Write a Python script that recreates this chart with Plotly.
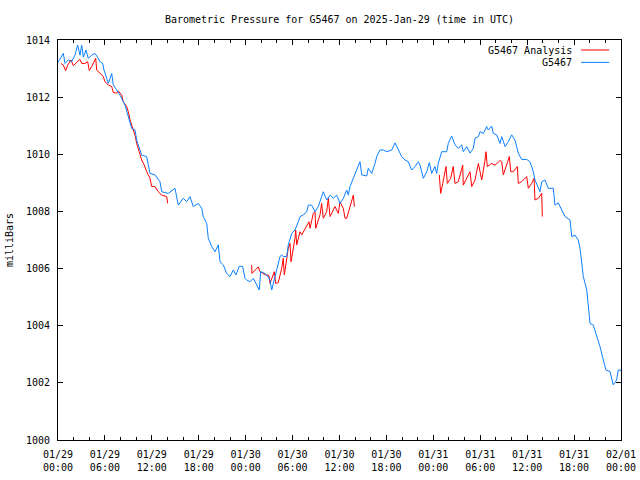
import pandas as pd
import plotly.graph_objects as go

START = "2025-01-29 00:00"
END = "2025-02-01 00:00"
TITLE = "Barometric Pressure for G5467 on 2025-Jan-29 (time in UTC)"
Y_TITLE = "milliBars"
OBS_NAME = "G5467"
ANA_NAME = "G5467 Analysis"

# Observed station pressure: hours since start, value (mb)
obs_hours = [0.0, 0.68, 0.90, 1.32, 1.75, 2.17, 2.52, 2.81, 3.03, 3.24, 3.58, 3.87, 4.31, 4.73,
             5.15, 5.37, 5.72, 5.88, 6.23, 6.43, 6.87, 7.07, 7.51, 7.93, 8.57, 8.99, 9.43, 9.85,
             10.06, 10.70, 11.34, 11.77, 12.40, 13.04, 13.26, 14.11, 14.96, 15.39, 16.02, 16.46,
             16.88, 17.30, 17.94, 18.38, 18.58, 19.02, 19.22, 19.66, 20.08, 20.50, 20.72, 21.14,
             21.57, 22.00, 22.42, 22.76, 23.19, 23.62, 23.91, 24.13, 24.55, 24.98, 25.41, 25.74,
             25.92, 26.26, 26.69, 27.11, 27.33, 27.62, 27.97, 28.39, 28.61, 28.81, 29.25, 29.45,
             29.89, 30.31, 30.73, 30.95, 31.37, 31.81, 32.01, 32.44, 32.87, 33.29, 33.72, 33.93,
             34.36, 34.79, 35.21, 35.64, 36.06, 36.49, 36.92, 37.13, 37.34, 37.69, 37.98, 38.40,
             38.62, 38.84, 39.48, 39.68, 40.12, 40.54, 40.76, 41.18, 41.60, 42.04, 42.68, 43.10,
             43.52, 43.95, 44.38, 44.80, 45.23, 45.66, 46.08, 46.30, 46.72, 47.16, 47.49, 47.79,
             48.21, 48.43, 48.63, 49.07, 49.71, 49.91, 50.35, 50.77, 51.19, 51.63, 51.83, 52.27,
             52.69, 53.11, 53.33, 53.76, 53.97, 54.40, 54.82, 55.03, 55.46, 55.67, 56.10, 56.53,
             56.74, 57.17, 57.59, 58.02, 58.44, 58.86, 59.30, 59.94, 60.36, 60.78, 61.00, 61.42,
             61.64, 61.86, 62.28, 62.70, 63.34, 63.56, 63.98, 64.42, 64.84, 65.48, 65.70, 66.12,
             66.54, 66.76, 66.98, 67.18, 67.62, 67.82, 68.04, 68.46, 68.89, 69.31, 69.74, 70.08,
             70.59, 71.01, 71.44, 71.65, 71.87, 72.0]
obs_values = [1013.22, 1013.53, 1013.18, 1013.30, 1013.24, 1013.47, 1013.82, 1013.47, 1013.82,
              1013.40, 1013.65, 1013.36, 1013.47, 1013.53, 1013.36, 1013.24, 1013.18, 1012.95,
              1012.66, 1012.48, 1012.83, 1012.43, 1012.25, 1012.07, 1011.72, 1011.30, 1010.90,
              1010.85, 1010.50, 1009.97, 1009.92, 1009.33, 1009.28, 1009.04, 1008.69, 1008.63,
              1008.81, 1008.22, 1008.46, 1008.34, 1008.52, 1008.17, 1008.28, 1008.11, 1007.82,
              1007.58, 1007.06, 1006.77, 1006.59, 1006.83, 1006.24, 1006.13, 1005.83, 1005.72,
              1005.95, 1005.78, 1006.09, 1006.07, 1005.66, 1005.60, 1005.54, 1005.66, 1005.42,
              1005.25, 1005.89, 1005.86, 1005.78, 1005.60, 1005.25, 1005.60, 1005.95, 1006.42,
              1006.48, 1006.42, 1006.42, 1006.83, 1007.23, 1007.35, 1007.64, 1007.82, 1007.88,
              1007.99, 1008.22, 1008.22, 1007.99, 1008.17, 1008.52, 1008.69, 1008.40, 1008.57,
              1008.46, 1008.57, 1008.28, 1008.46, 1008.75, 1008.57, 1008.87, 1009.10, 1009.28,
              1009.62, 1009.74, 1009.28, 1009.24, 1009.51, 1009.33, 1009.68, 1009.92, 1010.15,
              1010.15, 1010.09, 1010.15, 1010.40, 1010.15, 1009.92, 1009.80, 1009.74, 1009.45,
              1009.57, 1009.74, 1009.62, 1009.16, 1009.39, 1009.71, 1009.33, 1009.57, 1009.33,
              1009.68, 1010.09, 1010.09, 1010.38, 1010.64, 1010.33, 1010.21, 1010.33, 1010.09,
              1010.27, 1010.04, 1010.21, 1010.56, 1010.62, 1010.79, 1010.73, 1010.97, 1010.85,
              1010.99, 1010.73, 1010.68, 1010.38, 1010.62, 1010.27, 1010.44, 1010.68, 1010.50,
              1010.04, 1009.82, 1009.82, 1009.74, 1009.40, 1009.10, 1008.81, 1008.69, 1009.04,
              1009.10, 1008.81, 1008.81, 1008.22, 1008.30, 1008.05, 1007.82, 1007.70, 1007.12,
              1007.17, 1007.00, 1006.71, 1006.18, 1005.72, 1005.25, 1004.67, 1004.08, 1004.02,
              1003.68, 1003.27, 1002.80, 1002.45, 1002.40, 1001.93, 1002.10, 1002.45, 1002.45,
              1002.40]

# Analysis: three separate runs (gaps between them)
ana_hours_1 = [0.38, 0.68, 0.98, 1.24, 1.66, 1.96, 2.39, 2.81, 3.03, 3.45, 3.80, 4.00, 4.31, 4.64,
               4.82, 4.95, 5.37, 5.79, 6.01, 6.43, 6.87, 7.07, 7.51, 7.71, 8.15, 8.35, 8.79, 8.99,
               9.21, 9.50, 9.85, 10.06, 10.36, 10.70, 11.04, 11.34, 11.77, 11.98, 12.40, 12.83,
               13.26, 13.68, 13.90, 14.03]
ana_values_1 = [1013.18, 1013.12, 1012.93, 1013.12, 1013.30, 1013.10, 1013.22, 1013.32, 1013.18,
                1013.18, 1013.24, 1012.93, 1013.07, 1013.28, 1013.36, 1012.95, 1012.83, 1012.72,
                1012.54, 1012.43, 1012.37, 1012.16, 1012.14, 1012.22, 1012.07, 1011.84, 1011.67,
                1011.49, 1011.20, 1010.97, 1010.67, 1010.38, 1010.09, 1009.80, 1009.62, 1009.39,
                1009.16, 1008.87, 1008.87, 1008.69, 1008.57, 1008.52, 1008.52, 1008.28]
ana_hours_2 = [24.77, 24.80, 25.62, 25.83, 26.56, 26.98, 27.11, 27.66, 27.84, 28.17, 28.61, 28.81,
               28.94, 29.45, 29.67, 29.80, 30.31, 30.40, 30.53, 30.95, 31.17, 31.81, 32.10, 32.23,
               32.65, 32.87, 32.96, 33.51, 33.72, 33.93, 34.36, 34.57, 34.79, 35.21, 35.43, 35.85,
               36.06, 36.49, 36.71, 36.92, 37.47, 37.77, 37.90]
ana_values_2 = [1006.13, 1005.83, 1006.06, 1005.89, 1005.78, 1005.76, 1005.48, 1005.89, 1005.48,
                1005.51, 1006.01, 1006.36, 1005.78, 1006.71, 1006.88, 1006.24, 1007.06, 1007.35,
                1006.83, 1007.29, 1007.18, 1007.53, 1007.64, 1007.41, 1007.93, 1007.99, 1007.41,
                1007.88, 1008.28, 1007.76, 1007.99, 1008.46, 1007.82, 1008.05, 1008.17, 1007.93,
                1008.34, 1008.10, 1007.76, 1007.76, 1008.34, 1008.57, 1008.17]
ana_hours_3 = [48.76, 48.94, 49.20, 49.49, 49.62, 49.79, 50.22, 50.55, 50.77, 51.19, 51.76, 51.83,
               52.27, 52.69, 52.91, 53.33, 53.76, 54.06, 54.19, 54.61, 54.74, 54.90, 55.46, 55.88,
               56.53, 56.74, 56.95, 57.30, 57.72, 57.90, 58.23, 58.74, 58.87, 59.30, 59.94, 60.15,
               60.58, 60.88, 61.00, 61.42, 61.86, 61.94]
ana_values_3 = [1009.28, 1008.63, 1008.98, 1009.45, 1009.57, 1008.98, 1009.16, 1009.57, 1008.98,
                1009.04, 1009.62, 1008.92, 1009.16, 1009.39, 1008.87, 1009.10, 1009.68, 1009.33,
                1009.10, 1009.80, 1010.09, 1009.57, 1009.68, 1009.62, 1009.78, 1009.74, 1009.28,
                1009.57, 1009.92, 1009.39, 1009.39, 1009.57, 1008.98, 1009.04, 1009.22, 1008.81,
                1008.98, 1009.16, 1008.40, 1008.46, 1008.63, 1007.82]

Y_RANGE = [1000, 1014]
Y_DTICK = 2
RED = "#ff0000"
BLUE = "#0a80ff"
FONT = "DejaVu Sans Mono"

base = pd.Timestamp(START)


def to_times(hours):
    return list(base + pd.to_timedelta(hours, unit="h"))


ana_x, ana_y = [], []
for hs, vs in [(ana_hours_1, ana_values_1), (ana_hours_2, ana_values_2), (ana_hours_3, ana_values_3)]:
    if ana_x:
        ana_x.append(None)
        ana_y.append(None)
    ana_x += to_times(hs)
    ana_y += vs

fig = go.Figure()
fig.add_trace(go.Scatter(x=ana_x, y=ana_y, mode="lines", name=ANA_NAME,
                         line=dict(color=RED, width=1), connectgaps=False, showlegend=False))
fig.add_trace(go.Scatter(x=to_times(obs_hours), y=obs_values, mode="lines", name=OBS_NAME,
                         line=dict(color=BLUE, width=1), showlegend=False))

# gnuplot-style key: text right-aligned, line sample on the right
key_items = [(ANA_NAME, RED, 0.975), (OBS_NAME, BLUE, 0.944)]
for label, color, yk in key_items:
    fig.add_annotation(x=0.916, y=yk, xref="paper", yref="paper", text=label, showarrow=False,
                       xanchor="right", yanchor="middle", font=dict(family=FONT, size=10, color="black"))
    fig.add_shape(type="line", xref="paper", yref="paper", x0=0.929, x1=0.979, y0=yk, y1=yk,
                  line=dict(color=color, width=1))

fig.update_layout(
    width=640, height=480,
    margin=dict(l=58, r=19, t=40, b=40),
    paper_bgcolor="white", plot_bgcolor="white",
    font=dict(family=FONT, size=10, color="black"),
    title=dict(text=TITLE, xref="paper", x=0.5, xanchor="center", y=1 - 19 / 480, yanchor="middle",
               font=dict(family=FONT, size=10, color="black")),
    showlegend=False,
)
fig.update_xaxes(
    type="date", range=[START, END], automargin=False,
    tickmode="linear", tick0=START, dtick=6 * 3600 * 1000,
    tickformat="%m/%d<br>%H:%M",
    ticks="inside", ticklen=5, tickcolor="black", tickwidth=1,
    minor=dict(ticks="inside", ticklen=3, dtick=2 * 3600 * 1000, tick0=START, tickcolor="black"),
    showline=True, linecolor="black", linewidth=1, mirror="allticks",
    showgrid=False, zeroline=False,
    ticklabelstandoff=5,
    tickfont=dict(family=FONT, size=10, color="black"),
)
fig.update_yaxes(
    range=Y_RANGE, dtick=Y_DTICK, tick0=Y_RANGE[0], automargin=False,
    ticks="inside", ticklen=5, tickcolor="black", tickwidth=1,
    showline=True, linecolor="black", linewidth=1, mirror="allticks",
    showgrid=False, zeroline=False,
    ticklabelstandoff=5,
    title=dict(text=Y_TITLE, standoff=10, font=dict(family=FONT, size=10, color="black")),
    tickfont=dict(family=FONT, size=10, color="black"),
)

fig.write_html("out.html", config={"displayModeBar": False},
               post_script="document.body.style.margin='0';")
